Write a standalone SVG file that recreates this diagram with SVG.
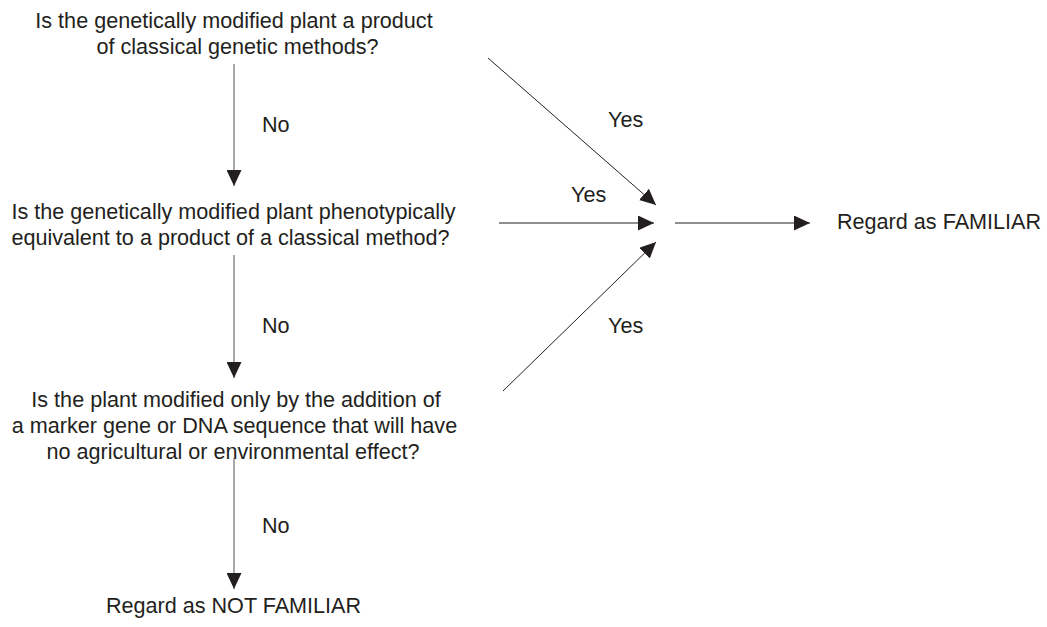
<svg xmlns="http://www.w3.org/2000/svg" width="1047" height="627" viewBox="0 0 1047 627">
  <style>
    text { font-family: "Liberation Sans", Arial, sans-serif; font-size: 21.6px; fill: #231f20; }
    .mid { text-anchor: middle; }
    .edge { stroke: #231f20; stroke-width: 1; fill: none; marker-end: url(#head); }
    .down { stroke: #555; }
  </style>
  <defs>
    <marker id="head" viewBox="0 0 16 15" refX="16" refY="7.5" markerWidth="16" markerHeight="15" markerUnits="userSpaceOnUse" orient="auto">
      <path d="M0,0 L16,7.5 L0,15 z" fill="#231f20"/>
    </marker>
  </defs>
  <rect width="1047" height="627" fill="#ffffff"/>

  <g id="q1">
    <text class="mid" x="234" y="28">Is the genetically modified plant a product</text>
    <text class="mid" x="237.5" y="54">of classical genetic methods?</text>
  </g>
  <g id="q2">
    <text class="mid" x="233.5" y="219">Is the genetically modified plant phenotypically</text>
    <text class="mid" x="230.5" y="245">equivalent to a product of a classical method?</text>
  </g>
  <g id="q3">
    <text class="mid" x="236" y="407">Is the plant modified only by the addition of</text>
    <text class="mid" x="234.5" y="433">a marker gene or DNA sequence that will have</text>
    <text class="mid" x="233" y="459">no agricultural or environmental effect?</text>
  </g>
  <g id="familiar">
    <text x="837" y="229">Regard as FAMILIAR</text>
  </g>
  <g id="not-familiar">
    <text class="mid" x="233.5" y="613">Regard as NOT FAMILIAR</text>
  </g>

  <g id="connectors">
    <line class="edge down" x1="234" y1="64" x2="234" y2="186"/>
    <line class="edge down" x1="234" y1="255" x2="234" y2="378"/>
    <line class="edge down" x1="234" y1="458" x2="234" y2="589"/>
    <line class="edge" x1="488" y1="58" x2="656" y2="205"/>
    <line class="edge" x1="499" y1="223" x2="654" y2="223"/>
    <line class="edge" x1="503" y1="391" x2="656" y2="242"/>
    <line class="edge" x1="675" y1="223" x2="810" y2="223"/>
    <text x="262" y="132">No</text>
    <text x="262" y="333">No</text>
    <text x="262" y="533">No</text>
    <text x="608" y="127">Yes</text>
    <text x="571" y="202">Yes</text>
    <text x="608" y="333">Yes</text>
  </g>
</svg>
